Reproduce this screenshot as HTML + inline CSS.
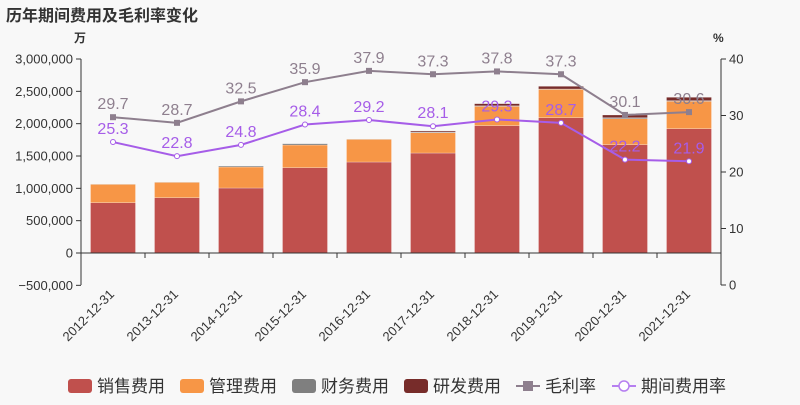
<!DOCTYPE html>
<html><head><meta charset="utf-8">
<style>
body{margin:0;background:#f8f8f8;font-family:"Liberation Sans","Noto Sans CJK SC",sans-serif;}
#wrap{position:relative;width:800px;height:400px;}
</style></head>
<body>
<div id="wrap">
<svg id="chart" width="800" height="400" xmlns="http://www.w3.org/2000/svg">
<text x="6" y="21" font-size="16" font-weight="bold" fill="#333" font-family="Liberation Sans, Noto Sans CJK SC, sans-serif">历年期间费用及毛利率变化</text>
</svg>
</div>
<script>
const categories=["2012-12-31","2013-12-31","2014-12-31","2015-12-31","2016-12-31","2017-12-31","2018-12-31","2019-12-31","2020-12-31","2021-12-31"];
const salesExp=[778000,855000,1005000,1319000,1407000,1546000,1969000,2092000,1675000,1922000];
const mgmtExp=[284000,238000,325000,351000,351000,314000,299000,439000,402000,424000];
const finExp=[3000,3000,15000,20000,3000,11000,8000,5000,15000,10000];
const rdExp=[0,0,0,0,0,16000,33000,42000,42000,52000];
const grossMargin=[29.7,28.7,32.5,35.9,37.9,37.3,37.8,37.3,30.1,30.6];
const expenseRate=[25.3,22.8,24.8,28.4,29.2,28.1,29.3,28.7,22.2,21.9];
const leftTicks=[-500000,0,500000,1000000,1500000,2000000,2500000,3000000];
const rightTicks=[0,10,20,30,40];

const svg=document.getElementById('chart');
const NS='http://www.w3.org/2000/svg';
const X0=81,X1=721,Y0=285,Ytop=59;
const yL=v=>253-(v/3000000)*194;
const yR=v=>Y0-(v/40)*(Y0-Ytop);
const bw=(X1-X0)/categories.length;
const xC=i=>X0+bw*(i+0.5);
const FONT='Liberation Sans, Noto Sans CJK SC, sans-serif';
function el(tag,attrs,text){const e=document.createElementNS(NS,tag);for(const k in attrs)e.setAttribute(k,attrs[k]);if(text!==undefined)e.textContent=text;svg.appendChild(e);return e;}

let a=el('line',{x1:X0,y1:Ytop,x2:X0,y2:Y0,stroke:'#333'});


a=el('line',{x1:X1,y1:Ytop,x2:X1,y2:Y0,stroke:'#333'});


a=el('text',{x:74,y:42,'font-size':12,'font-weight':'bold',fill:'#333','font-family':FONT},'万');


a=el('text',{x:713,y:42,'font-size':12,'font-weight':'bold',fill:'#333','font-family':FONT},'%');


leftTicks.forEach(v=>{
  const y=yL(v);
  el('line',{x1:X0-5,y1:y,x2:X0,y2:y,stroke:'#333'});
  const t=el('text',{x:X0-8,y:y+4.5,'font-size':13,fill:'#333','text-anchor':'end','font-family':FONT},v.toLocaleString('en-US').replace('-','−'));
  
  
});
rightTicks.forEach(v=>{
  const y=yR(v);
  el('line',{x1:X1,y1:y,x2:X1+5,y2:y,stroke:'#333'});
  const t=el('text',{x:X1+8,y:y+4.5,'font-size':13,fill:'#333','font-family':FONT},v);
  
  
});
const series=[[salesExp,'#c0504d','sales'],[mgmtExp,'#f79646','management'],[finExp,'#7f7f7f','finance'],[rdExp,'#772c2a','rd']];
categories.forEach((c,i)=>{
  let base=0;
  series.forEach(([arr,col,nm])=>{
    const v=arr[i]; if(v<=0)return;
    const y1=yL(base+v),y2=yL(base);
    const r=el('rect',{x:xC(i)-22.5,y:y1,width:45,height:y2-y1,fill:col,stroke:'rgba(255,255,255,0.5)','stroke-width':0.5});
    
    
    base+=v;
  });
});
el('line',{x1:X0,y1:yL(0),x2:X1,y2:yL(0),stroke:'#333'});
categories.forEach((c,i)=>{
  el('line',{x1:X0+bw*i,y1:yL(0),x2:X0+bw*i,y2:yL(0)+5,stroke:'#333'});
  const x=xC(i)+2,y=295;
  const t=el('text',{x:x,y:y,'font-size':13,fill:'#333','text-anchor':'end','font-family':FONT,transform:`rotate(-45 ${x} ${y})`},c);
  
  
});
function line(arr,col,nm,square){
  const pts=arr.map((v,i)=>xC(i)+','+yR(v)).join(' ');
  const p=el('polyline',{points:pts,fill:'none',stroke:col,'stroke-width':2});
  
  
  arr.forEach((v,i)=>{
    let m;
    if(square)m=el('rect',{x:xC(i)-3,y:yR(v)-3,width:6,height:6,fill:col});
    else m=el('circle',{cx:xC(i),cy:yR(v),r:2.5,fill:'#fff',stroke:col,'stroke-width':1});
    
    
    const t=el('text',{x:xC(i),y:yR(v)-8,'font-size':16,fill:col,'text-anchor':'middle','font-family':FONT},v.toFixed(1));
    
    
  });
}
line(grossMargin,'#8e7f8e','gross-margin',true);
line(expenseRate,'#a65de8','expense-rate',false);
const leg=[['销售费用','#c0504d','box'],['管理费用','#f79646','box'],['财务费用','#7f7f7f','box'],['研发费用','#772c2a','box'],['毛利率','#8e7f8e','sq'],['期间费用率','#b67ff0','ci']];
const lx=[68,180,292,404,516,612];
leg.forEach(([n,c,t],i)=>{
  const x=lx[i],y=386;
  let m;
  if(t==='box')m=el('rect',{x:x,y:y-7,width:24,height:14,rx:3,fill:c});
  else{el('line',{x1:x,y1:y,x2:x+24,y2:y,stroke:c,'stroke-width':2});
    m=t==='sq'?el('rect',{x:x+7,y:y-5,width:10,height:10,fill:c}):el('circle',{cx:x+12,cy:y,r:5,fill:'#fff',stroke:c,'stroke-width':1.5});}
  
  
  const tx=el('text',{x:x+29,y:y+6,'font-size':17,fill:'#333','font-family':FONT},n);
  
  
});
</script>
</body></html>
